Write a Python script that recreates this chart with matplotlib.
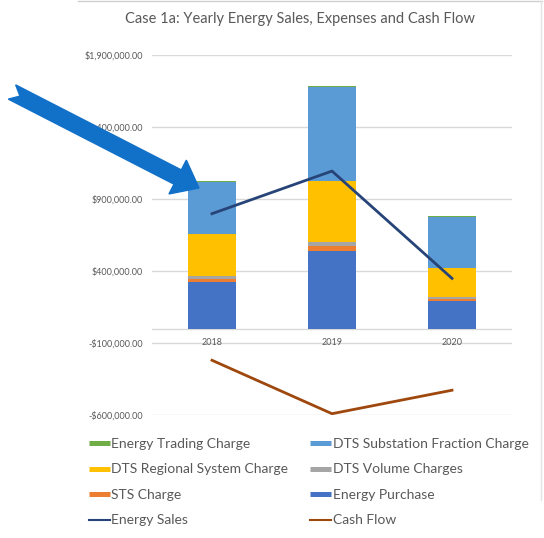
import numpy as np
import matplotlib
matplotlib.use("Agg")
import matplotlib.pyplot as plt
from matplotlib.lines import Line2D
from matplotlib.patches import Polygon
from matplotlib.ticker import FuncFormatter

plt.rcParams['font.family'] = ['Lato', 'DejaVu Sans']

# Data
years = ['2018', '2019', '2020']
energy_purchase = [321000, 539000, 192000]
sts_charge = [23000, 37000, 14000]
dts_volume = [21000, 23000, 13000]
dts_regional = [295000, 428000, 204000]
dts_substation = [358000, 653000, 352000]
energy_trading = [5000, 6000, 4000]
energy_sales = [798000, 1094000, 349000]
cash_flow = [-220000, -591000, -428000]

yticks = [-600000, -100000, 400000, 900000, 1400000, 1900000]

stack = [
    ('Energy Purchase', energy_purchase, '#4472C4'),
    ('STS Charge', sts_charge, '#ED7D31'),
    ('DTS Volume Charges', dts_volume, '#A5A5A5'),
    ('DTS Regional System Charge', dts_regional, '#FFC000'),
    ('DTS Substation Fraction Charge', dts_substation, '#5B9BD5'),
    ('Energy Trading Charge', energy_trading, '#70AD47'),
]
sales_color = '#264478'
cash_color = '#9E480E'
text_gray = '#595959'
grid_gray = '#D9D9D9'

fig = plt.figure(figsize=(5.44, 5.38), dpi=100)
ax = fig.add_axes([152 / 544, 1 - 415 / 538, 360 / 544, 360 / 538])

x = np.arange(len(years))
bottom = np.zeros(len(years))
for name, vals, col in stack:
    ax.bar(x, vals, 0.4, bottom=bottom, color=col, zorder=3)
    bottom += np.array(vals)

ax.plot(x, energy_sales, color=sales_color, lw=2, zorder=4)
ax.plot(x, cash_flow, color=cash_color, lw=2, zorder=4)

ax.set_xlim(-0.5, 2.5)
ax.set_ylim(yticks[0], yticks[-1])
ax.set_yticks(yticks)
ax.yaxis.set_major_formatter(FuncFormatter(
    lambda v, p: ('-$' if v < 0 else '$') + f'{abs(v):,.2f}'))
ax.tick_params(axis='y', length=0, labelsize=6.5, labelcolor=text_gray, pad=6.5)
ax.set_xticks([])
ax.grid(axis='y', color=grid_gray, lw=1, zorder=0)
ax.axhline(0, color=grid_gray, lw=1, zorder=2)
for s in ax.spines.values():
    s.set_visible(False)

# category labels sit just under the zero axis line
for i, yr in enumerate(years):
    ax.annotate(yr, (i, 0), xytext=(0, -9.7), textcoords='offset points',
                ha='center', va='center', fontsize=6.5, color=text_gray)

fig.text(300 / 544, 1 - 19 / 538, 'Case 1a: Yearly Energy Sales, Expenses and Cash Flow',
         ha='center', va='center', fontsize=10.5, color=text_gray)

# legend, filled column by column to get Excel's row order
h = {name: Line2D([], [], color=col, lw=3.6, solid_capstyle='butt') for name, _, col in stack}
h['Energy Sales'] = Line2D([], [], color=sales_color, lw=1.5)
h['Cash Flow'] = Line2D([], [], color=cash_color, lw=1.5)
order = ['Energy Trading Charge', 'DTS Regional System Charge', 'STS Charge', 'Energy Sales',
         'DTS Substation Fraction Charge', 'DTS Volume Charges', 'Energy Purchase', 'Cash Flow']
leg = fig.legend([h[n] for n in order], order, ncol=2, loc='upper left',
                 bbox_to_anchor=(89 / 544, 1 - 438 / 538), frameon=False,
                 fontsize=10, handlelength=1.5, handletextpad=0.1,
                 labelspacing=0.97, columnspacing=1.6, borderaxespad=0, borderpad=0)
for t in leg.get_texts():
    t.set_color(text_gray)

# partial chart border from the screenshot
fig.add_artist(Line2D([78 / 544, 542 / 544], [1 - 1 / 538, 1 - 1 / 538],
                      color='#D0D0D0', lw=1, transform=fig.transFigure))
fig.add_artist(Line2D([541 / 544, 541 / 544], [1 - 1 / 538, 1 - 500 / 538],
                      color='#E4E4E4', lw=1, transform=fig.transFigure))

# big blue callout arrow (pixel geometry, converted to figure fractions)
tail = np.array([12.0, 92.0])
tip = np.array([199.0, 188.0])
d = (tip - tail) / np.linalg.norm(tip - tail)
n = np.array([-d[1], d[0]])
shaft_w, head_w, head_len, notch = 16.0, 38.0, 24.0, 9.0
neck = tip - d * head_len
pts = [tail + n * shaft_w / 2, tail + d * notch, tail - n * shaft_w / 2,
       neck - n * shaft_w / 2, neck - n * head_w / 2, tip,
       neck + n * head_w / 2, neck + n * shaft_w / 2]
pts = [(p[0] / 544, 1 - p[1] / 538) for p in pts]
fig.add_artist(Polygon(pts, closed=True, color='#1170C8', transform=fig.transFigure, zorder=10))

fig.savefig('out.png', dpi=100)
